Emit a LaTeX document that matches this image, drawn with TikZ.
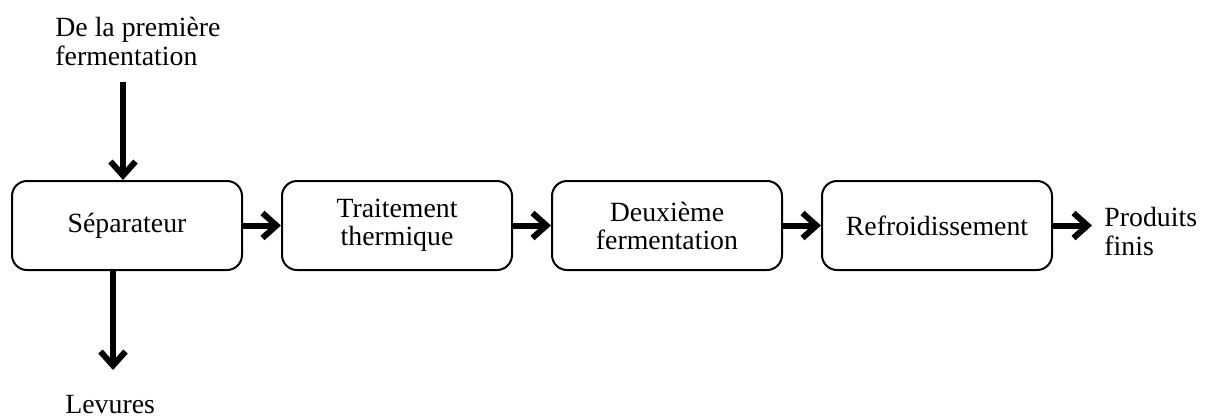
\documentclass[tikz,border=0pt]{standalone}
\usepackage{fontspec}
\setmainfont{Liberation Serif}
\usetikzlibrary{arrows.meta}
\usetikzlibrary{positioning}
\usetikzlibrary{calc}

\tikzset{
  stage/.style={draw, line width=1pt, rounded corners=7.5pt, align=center,
    minimum width=115pt, minimum height=44.5pt, inner sep=2pt},
  flow/.style={line width=3pt, -{Straight Barb[length=7pt,width=12.5pt]}},
  label/.style={align=left, inner sep=0pt}
}

\begin{document}
\begin{tikzpicture}[x=0.5pt, y=-0.5pt, font=\fontsize{13.9pt}{14pt}\selectfont]

        \useasboundingbox (0,0) rectangle (1206,418);

        % Process stages
        \node[stage] (sep) at (127,225.5) {Séparateur};
        \node[stage, right=19pt of sep] (heat) {Traitement\\thermique};
        \node[stage, right=19pt of heat] (ferm) {Deuxième\\fermentation};
        \node[stage, right=19pt of ferm] (cool) {Refroidissement};

        % Inlet and outlets
        \node[label, anchor=north west, font=\fontsize{13.9pt}{14.2pt}\selectfont] (src) at (55,17) {De la première\\fermentation};
        \node[label, anchor=base west] (yeast) at (65,413) {Levures};
        \node[label, anchor=north west, font=\fontsize{13.9pt}{14.4pt}\selectfont] (prod) at (1104,207) {Produits\\finis};
        \coordinate (in) at (123,82);
        \coordinate (out) at (113,370);
        \coordinate (end) at (1092,225.5);

        % Arrows
        \draw[flow] (in) -- (in |- sep.north);
        \draw[flow] (out |- sep.south) -- (out);
        \draw[flow] (sep) -- (heat);
        \draw[flow] (heat) -- (ferm);
        \draw[flow] (ferm) -- (cool);
        \draw[flow] (cool) -- (end);

\end{tikzpicture}
\end{document}
